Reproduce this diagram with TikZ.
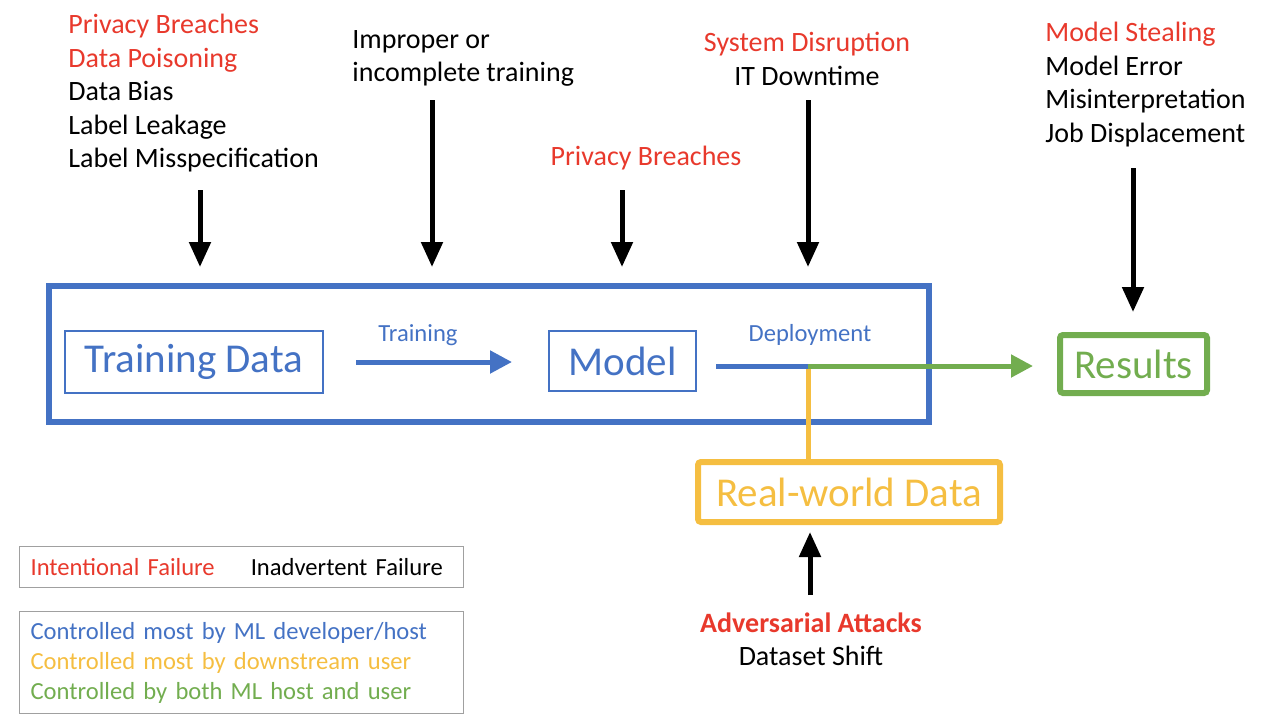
\documentclass[tikz,border=0pt]{standalone}
\usepackage{fontspec}
\setmainfont{Carlito}
\usepackage{tikz}
\usetikzlibrary{positioning,arrows.meta}
\definecolor{failred}{HTML}{E8392C}
\definecolor{mlblue}{HTML}{4472C4}
\definecolor{usergold}{HTML}{F5BE41}
\definecolor{bothgreen}{HTML}{72AD4F}
\definecolor{leggray}{HTML}{A0A0A0}

\begin{document}
\begin{tikzpicture}[x=0.5pt,y=-0.5pt,
  lbl/.style={font=\fontsize{14}{16.75}\selectfont,inner sep=0pt},
  big/.style={font=\fontsize{20.5}{24}\selectfont,inner sep=0pt},
  small/.style={font=\fontsize{12.3}{15}\selectfont,inner sep=0pt,text=mlblue},
  risk/.style={line width=2.5pt,-{Triangle[width=10.5pt,length=12.5pt]}},
  flow/.style={line width=2.5pt,-{Triangle[width=11pt,length=11pt]}},
  legbox/.style={draw=leggray,line width=0.6pt,font=\fontsize{12.3}{15}\selectfont,
    inner xsep=5.5pt,text width=211pt,align=left,anchor=north west}]
\useasboundingbox (0,0) rectangle (1268,724);
% pipeline boxes (units = pixels of the 1268x724 frame)
\node[draw=mlblue,line width=3pt,minimum width=440pt,minimum height=68pt] (frame) at (489,354) {};
\node[big,draw=mlblue,line width=1pt,text=mlblue,minimum width=129pt,minimum height=31pt] (td) at (194,362) {Training Data};
\node[big,draw=mlblue,line width=1pt,text=mlblue,minimum width=73.5pt,minimum height=30pt] (model) at (622.5,361) {Model};
\node[big,draw=usergold,line width=3pt,rounded corners=1.5pt,text=usergold,minimum width=151pt,minimum height=30pt] (rwd) at (849,492) {Real-world Data};
\node[big,draw=bothgreen,line width=3pt,rounded corners=1.5pt,text=bothgreen,minimum width=73.5pt,minimum height=29pt] (results) at (1133.5,364) {Results};
% training and deployment
\node[small] (trainLbl) at (418,335) {Training};
\node[small] (deployLbl) at (810,335) {Deployment};
\draw[flow,mlblue,shorten <=16pt,shorten >=18pt] (td) -- (td -| model.west);
\coordinate (split) at (808,366);
\draw[usergold,line width=2.5pt] (split) -- (split |- rwd.north);
\draw[mlblue,line width=2.5pt,shorten <=9.5pt] (split -| model.east) -- (split);
\draw[flow,bothgreen,shorten >=12pt] (split) -- (split -| results.west);
% failure modes
\node[lbl,anchor=north west,align=left] (dataRisk) at (68,14)
  {\textcolor{failred}{Privacy Breaches}\\ \textcolor{failred}{Data Poisoning}\\ Data Bias\\ Label Leakage\\ Label Misspecification};
\node[lbl,anchor=north west,align=left] (trainRisk) at (352,30) {Improper or\\ incomplete training};
\node[lbl,text=failred] (modelRisk) at (646,158) {Privacy Breaches};
\node[lbl,anchor=north,align=center] (deployRisk) at (807,32) {\textcolor{failred}{System Disruption}\\ IT Downtime};
\node[lbl,anchor=north west,align=left] (resultRisk) at (1045,22)
  {\textcolor{failred}{Model Stealing}\\ Model Error\\ Misinterpretation\\ Job Displacement};
\node[lbl,anchor=north,align=center] (inputRisk) at (811,612) {\textcolor{failred}{\bfseries Adversarial Attacks}\\ Dataset Shift};
\coordinate (r1) at (200,190);
\coordinate (r2) at (432,100);
\coordinate (r3) at (622,190);
\coordinate (r4) at (808,100);
\coordinate (r5) at (1133,168);
\coordinate (r6) at (810,595);
\foreach \r in {r1,r2,r3,r4}
  \draw[risk,shorten >=8pt] (\r) -- (\r |- frame.north);
\draw[risk,shorten >=10pt] (r5) -- (r5 |- results.north);
\draw[risk,shorten >=3.5pt] (r6) -- (r6 |- rwd.south);
% legends
\node[legbox,minimum height=20.5pt] (legFail) at (19,546)
  {\textcolor{failred}{Intentional Failure}\hspace{18pt}Inadvertent Failure};
\node[legbox,minimum height=51pt] (legCtrl) at (19,611)
  {\textcolor{mlblue}{Controlled most by ML developer/host}\\
   \textcolor{usergold}{Controlled most by downstream user}\\
   \textcolor{bothgreen}{Controlled by both ML host and user}};
\end{tikzpicture}
\end{document}
